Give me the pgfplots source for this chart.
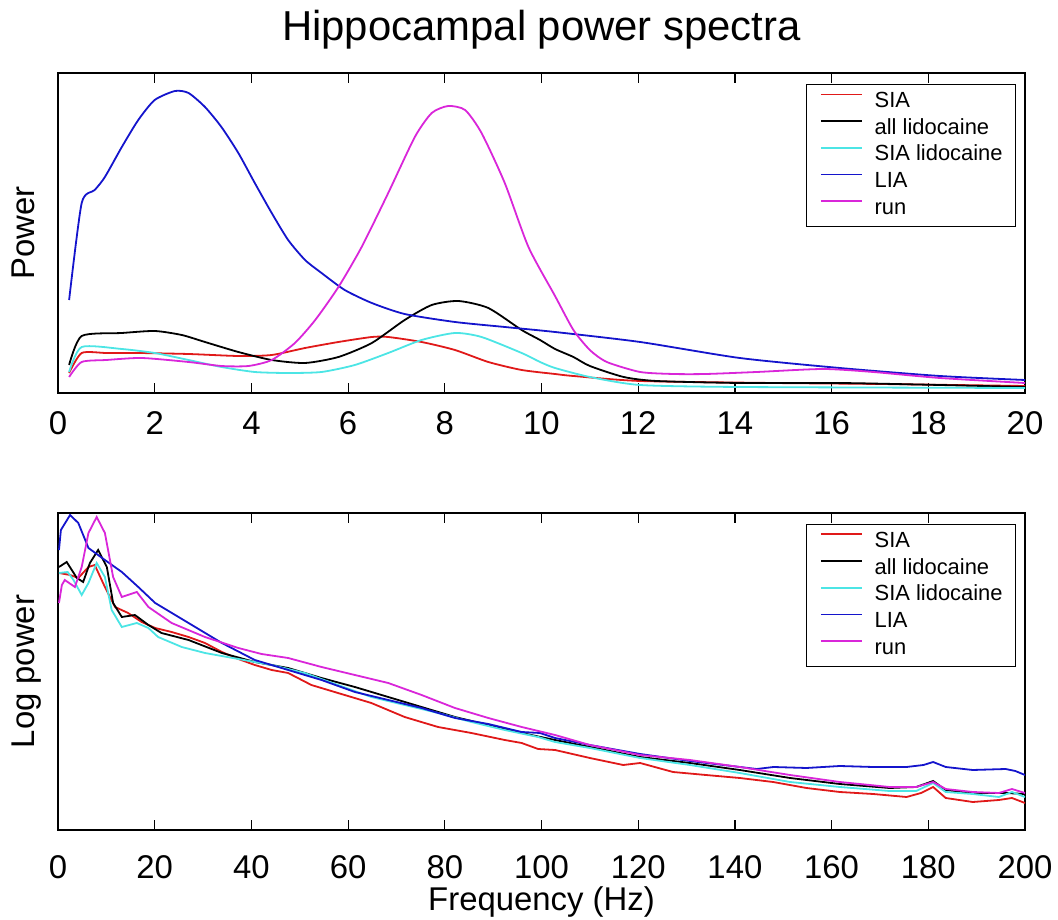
\documentclass[border=0pt]{standalone}
\usepackage{fontspec}
\setmainfont{Liberation Sans}
\usepackage{pgfplots}
\pgfplotsset{compat=1.18}
\definecolor{cSIA}{rgb}{0.88,0.10,0.10}
\definecolor{cALL}{rgb}{0,0,0}
\definecolor{cSIAL}{rgb}{0.30,0.90,0.90}
\definecolor{cLIA}{rgb}{0.08,0.08,0.80}
\definecolor{cRUN}{rgb}{0.85,0.15,0.85}
\pgfplotsset{
  myax/.style={
    scale only axis, width=967bp, xmin=0,
    ytick=\empty, tick align=inside, major tick length=10bp,
    axis line style={line width=1.2bp},
    every tick/.style={line width=1.2bp, black},
    tick label style={font=\fontsize{33}{33}\selectfont},
    /pgf/number format/assume math mode=true,
    every axis y label/.style={at={(axis description cs:-0.0238,0.5)}, rotate=90, anchor=base, inner sep=0pt, font=\fontsize{33}{33}\selectfont},
    every axis x label/.style={at={(axis description cs:0.5,0)}, anchor=base, inner sep=0pt, yshift=-80bp, font=\fontsize{33}{33}\selectfont},
    every axis plot/.append style={line width=1.8bp},
    legend cell align=left,
    legend image code/.code={\draw[#1, line width=1.8bp] (0bp,7.5bp) -- (41bp,7.5bp);},
    legend style={anchor=north east, draw=black, line width=0.8bp, fill=white,
      inner xsep=13bp, inner ysep=7bp, row sep=5.7bp, column sep=12bp,
      nodes={inner sep=0pt, text height=16bp, text depth=5bp, font=\fontsize{22}{22}\selectfont}},
  }
}
\begin{document}
\begin{tikzpicture}
\useasboundingbox (0bp,0bp) rectangle (1058bp,920bp);
% ---------------- top panel ----------------
\begin{axis}[myax, at={(58bp,527bp)}, anchor=south west, height=320bp,
  xmax=20, ymin=0, ymax=320, xtick={0,2,...,20},
  xticklabel style={inner sep=0pt, anchor=base, yshift=-42bp},
  ylabel={Power},
  title={Hippocampal power spectra},
  title style={at={(axis description cs:0.5,1)}, anchor=base, inner sep=0pt, yshift=27bp, font=\fontsize{42}{42}\selectfont},
  legend style={at={(axis description cs:0.9907,0.9656)}},
]
\addplot[cSIA, smooth, tension=0.4] coordinates {
(0.23,20) (0.49,40) (1.0,40) (1.66,40) (2.7,39) (3.73,37) (4.42,38) (5.11,45) (5.8,51) (6.49,56) (6.83,56) (7.52,51) (8.21,43) (8.9,31) (9.59,23) (10.28,19) (10.66,17) (12.04,12) (14.79,10) (17,9) (20,7)};
\addlegendentry{SIA}
\addplot[cALL, smooth, tension=0.4] coordinates {
(0.23,28) (0.49,57) (1.32,60) (2.0,62) (2.56,58) (3.04,51) (3.73,41) (4.42,33) (5.11,30) (5.8,36) (6.49,50) (7.17,73) (7.73,88) (8.28,92) (8.9,85) (9.59,63) (9.97,53) (10.28,44) (10.66,36) (11.0,27) (11.7,16) (12.38,12) (14.1,10) (16.17,10) (18.24,8) (20,6)};
\addlegendentry{all lidocaine}
\addplot[cSIAL, smooth, tension=0.4] coordinates {
(0.23,21) (0.49,46) (1.32,44) (2.0,40) (2.7,33) (3.38,26) (4.07,21) (4.76,20) (5.45,21) (6.14,28) (6.83,40) (7.52,53) (8.21,60) (8.76,56) (9.59,40) (9.97,31) (10.28,25) (11.0,16) (12.04,8) (14.1,6) (20,5)};
\addlegendentry{SIA lidocaine}
\addplot[cLIA, smooth, tension=0.4] coordinates {
(0.23,93) (0.49,190) (0.76,203) (0.97,216) (1.32,246) (1.66,273) (2.0,293) (2.42,302) (2.7,300) (3.04,286) (3.38,266) (3.73,240) (4.07,210) (4.42,180) (4.76,153) (5.11,133) (5.45,120) (5.93,103) (6.49,90) (7.17,79) (8.21,71) (9.24,66) (10.28,61) (12.04,51) (14.1,35) (16.17,25) (18.24,17) (20,13)};
\addlegendentry{LIA}
\addplot[cRUN, smooth, tension=0.4] coordinates {
(0.23,16) (0.49,31) (1.0,33) (1.73,35) (2.7,31) (3.38,27) (3.94,27) (4.42,33) (4.9,50) (5.32,73) (5.8,106) (6.28,146) (6.83,200) (7.38,256) (7.73,280) (8.07,287) (8.42,283) (8.76,260) (9.24,210) (9.73,146) (10.28,97) (10.66,63) (11.0,43) (11.35,31) (12.04,21) (12.73,19) (13.4,19) (14.45,21) (15.82,24) (16.86,21) (18.24,15) (20,10)};
\addlegendentry{run}
\end{axis}
% ---------------- bottom panel ----------------
\begin{axis}[myax, at={(58bp,90bp)}, anchor=south west, height=317bp,
  xmax=200, ymin=0, ymax=317, xtick={0,20,...,200},
  xticklabel style={inner sep=0pt, anchor=base, yshift=-48bp},
  ylabel={Log power},
  xlabel={Frequency (Hz)},
  legend style={at={(axis description cs:0.9907,0.9653)}},
]
\addplot[cSIA] coordinates {
(0.2,257) (2.5,255) (4.2,252) (6.3,263) (7.6,265) (9.7,243) (11.8,223) (14.5,217) (17.3,208) (20.1,202) (23.5,198) (27,193) (30.4,187) (33.9,178) (37.3,171) (40.7,165) (44.2,160) (47.6,157) (52.4,145) (57.9,137) (64.8,127) (71.7,113) (78.6,103) (85.5,97) (92.4,90) (95.9,87) (99.3,81) (102.8,80) (110,72) (116.9,65) (120.4,67) (127.2,58) (134,55) (141,52) (147.9,48) (154.8,42) (161.7,38) (168.6,36) (175.5,33) (178.5,37) (181,43) (183.6,32) (189.2,28) (194.6,30) (197.3,32) (200,27)};
\addlegendentry{SIA}
\addplot[cALL] coordinates {
(0.2,263) (1.8,268) (3.9,252) (5.2,248) (6.6,267) (8.3,280) (10.1,263) (11.4,227) (13.2,213) (15.9,215) (18.7,205) (21.4,197) (27,190) (33.9,177) (40.7,168) (47.6,162) (54.5,152) (61.4,143) (68.3,133) (75.2,123) (82.1,113) (89,105) (95.9,97) (102.8,90) (110,83) (120.4,73) (130.7,67) (141,60) (151.4,52) (161.7,46) (172,42) (177.5,43) (181,49) (183.6,40) (189.2,37) (196,37) (200,36)};
\addlegendentry{all lidocaine}
\addplot[cSIAL] coordinates {
(0.2,257) (2,258) (3.2,250) (4.9,235) (6.3,247) (8,267) (9.7,253) (11.1,220) (13.2,203) (16.3,207) (18.7,202) (20.7,193) (25.6,183) (30.4,177) (37.3,171) (44.2,165) (51,157) (57.9,145) (64.8,133) (71.7,125) (78.6,117) (85.5,108) (92.4,100) (99.3,93) (102.8,88) (110,82) (120.4,72) (130.7,65) (141,57) (151.4,48) (161.7,43) (172,39) (177.5,39) (181,47) (183.6,38) (189.2,36) (194.6,33) (197.3,38) (200,33)};
\addlegendentry{SIA lidocaine}
\addplot[cLIA] coordinates {
(0.2,280) (0.6,300) (2.5,315) (4.2,307) (6.3,282) (9.7,270) (13.2,258) (16.6,243) (20.1,227) (27,207) (33.9,187) (40.7,170) (47.6,160) (54.5,150) (61.4,138) (68.3,130) (75.2,122) (82.1,112) (89,106) (95.9,98) (99.7,97) (102.8,92) (110,85) (120.4,76) (130.7,69) (137.6,65) (144.5,61) (148,63) (154.8,62) (161.7,64) (168.6,63) (175.5,63) (179,65) (181,68) (183.6,63) (189.2,60) (196,61) (198,59) (200,55)};
\addlegendentry{LIA}
\addplot[cRUN] coordinates {
(0.2,227) (0.8,245) (1.4,250) (3.5,243) (4.9,263) (6.3,297) (8,313) (9.7,297) (11.4,253) (13.2,233) (16.3,238) (18.7,223) (23.5,207) (30.4,193) (37.3,182) (42.1,176) (47.6,172) (54.5,163) (61.4,155) (68.3,147) (75.2,135) (82.1,122) (89,112) (95.9,103) (102.8,95) (110,85) (120.4,75) (130.7,70) (141,63) (151.4,55) (161.7,48) (172,43) (177.5,43) (181,48) (183.6,41) (189.2,38) (194.6,37) (197.3,41) (200,37)};
\addlegendentry{run}
\end{axis}
\end{tikzpicture}
\end{document}
